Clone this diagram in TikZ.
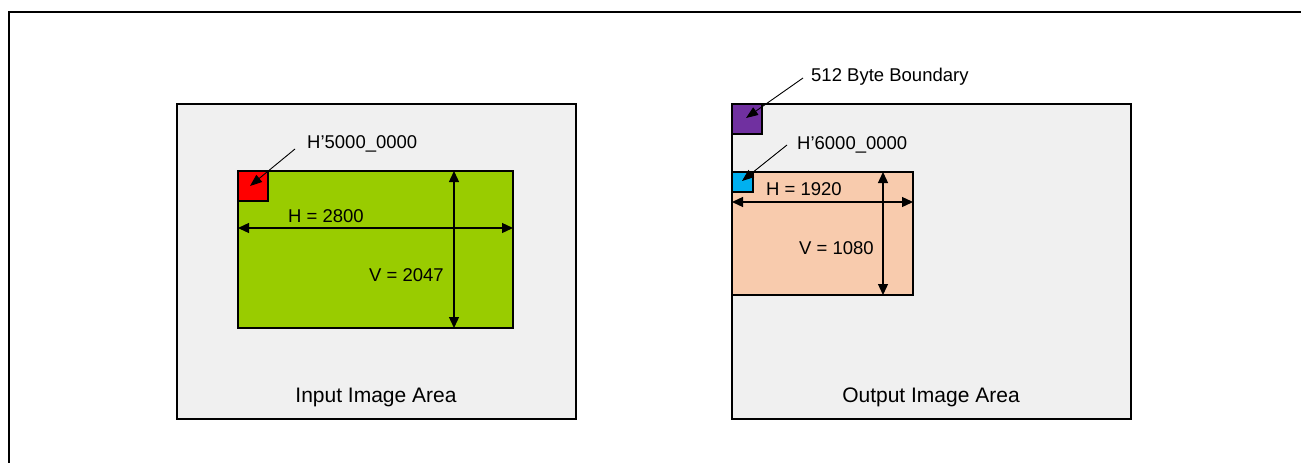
\documentclass[tikz,border=0pt]{standalone}
\usepackage{fontspec}
\setmainfont{Liberation Sans}
\usetikzlibrary{arrows.meta,shadows}
\definecolor{areagray}{HTML}{F0F0F0}
\definecolor{ingreen}{HTML}{99CC00}
\definecolor{outsalmon}{HTML}{F8CBAD}
\definecolor{bndpurple}{HTML}{7030A0}
\definecolor{adrblue}{HTML}{00B0F0}
\tikzset{
  rectbox/.style={draw=black, line width=1.7pt, inner sep=0pt, outer sep=0pt, anchor=north west},
  areabox/.style={rectbox, fill=areagray, drop shadow={shadow xshift=1.3pt, shadow yshift=-1.3pt, fill=black!35, opacity=1}},
  lbl/.style={inner sep=0pt, anchor=base west, font=\fontsize{18.5}{22}\selectfont},
  clbl/.style={inner sep=0pt, anchor=base, font=\fontsize{21}{25}\selectfont},
  dimarrow/.style={line width=1.3pt, {Triangle[length=11pt,width=10pt]}-{Triangle[length=11pt,width=10pt]}},
  ptrarrow/.style={line width=0.9pt, -{Triangle[length=12pt,width=9pt]}},
}
\begin{document}
\begin{tikzpicture}[x=1pt,y=-1pt]
\useasboundingbox (0,0) rectangle (1301,463);
\fill[white] (0,0) rectangle (1301,463);
% outer frame (only top and left edges visible)
\draw[line width=2.2pt] (1305,12) -- (9,12) -- (9,467);

% ---------- input side ----------
\node[areabox, minimum width=399pt, minimum height=315pt] (inA) at (177,104) {};
\node[rectbox, fill=ingreen, minimum width=275pt, minimum height=157pt] (inImg) at (238,171) {};
\node[rectbox, fill=red, minimum width=30pt, minimum height=30pt] (inAdr) at (238,171) {};
\node[lbl] (inAdrL) at (307,148.6) {H’5000\_0000};
\coordinate (inAdrS) at (295,149);
\coordinate (inAdrT) at (250,186);
\draw[ptrarrow] (inAdrS) -- (inAdrT);
\node[lbl] (inH) at (288,222.7) {H = 2800};
\node[lbl] (inV) at (369,281.7) {V = 2047};
\coordinate (inHl) at (inImg.west |- 0,228);
\coordinate (inHr) at (inImg.east |- 0,228);
\draw[dimarrow] (inHl) -- (inHr);
\coordinate (inVt) at (454,0 |- inImg.north);
\coordinate (inVb) at (454,0 |- inImg.south);
\draw[dimarrow] (inVt) -- (inVb);
\node[clbl] (inT) at (376,402.3) {Input Image Area};

% ---------- output side ----------
\node[areabox, minimum width=399pt, minimum height=315pt] (outA) at (732,104) {};
\node[rectbox, fill=bndpurple, minimum width=30pt, minimum height=30pt] (bnd) at (732,104) {};
\node[lbl] (bndL) at (811,81) {512 Byte Boundary};
\coordinate (bndS) at (803,78);
\coordinate (bndT) at (746,118);
\draw[ptrarrow] (bndS) -- (bndT);
\node[rectbox, fill=outsalmon, minimum width=181pt, minimum height=123pt] (outImg) at (732,172) {};
\node[rectbox, fill=adrblue, minimum width=21pt, minimum height=20pt] (outAdr) at (732,172) {};
\node[lbl] (outAdrL) at (797,149) {H’6000\_0000};
\coordinate (outAdrS) at (787,145);
\coordinate (outAdrT) at (742,181);
\draw[ptrarrow] (outAdrS) -- (outAdrT);
\node[lbl] (outH) at (766,195.7) {H = 1920};
\node[lbl] (outV) at (799,254.3) {V = 1080};
\coordinate (outHl) at (outImg.west |- 0,202);
\coordinate (outHr) at (outImg.east |- 0,202);
\draw[dimarrow] (outHl) -- (outHr);
\coordinate (outVt) at (883,0 |- outImg.north);
\coordinate (outVb) at (883,0 |- outImg.south);
\draw[dimarrow] (outVt) -- (outVb);
\node[clbl] (outT) at (931,402.3) {Output Image Area};
\end{tikzpicture}
\end{document}
